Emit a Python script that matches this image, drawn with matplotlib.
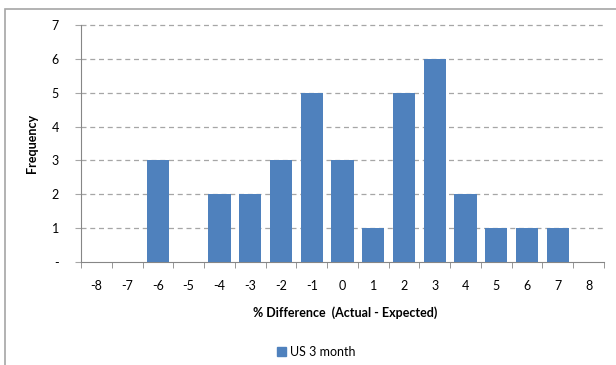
import matplotlib.pyplot as plt
from matplotlib.patches import Rectangle
import numpy as np

categories = [-8, -7, -6, -5, -4, -3, -2, -1, 0, 1, 2, 3, 4, 5, 6, 7, 8]
frequency = [0, 0, 3, 0, 2, 2, 3, 5, 3, 1, 5, 6, 2, 1, 1, 1, 0]
y_ticks = [0, 1, 2, 3, 4, 5, 6, 7]
y_labels = ["-", "1", "2", "3", "4", "5", "6", "7"]

plt.rcParams['font.family'] = ['Lato', 'DejaVu Sans']

W, H = 616, 365
fig = plt.figure(figsize=(W / 100, H / 100), dpi=100)

# chart frame (runs off the right and bottom)
fig.patches.append(Rectangle((5 / W, -0.1), 1.2, 1.1 - 9 / H, transform=fig.transFigure,
                             fill=False, edgecolor="#a6a6a6", linewidth=1.2))

left, right, top, bottom = 81, 604, 25, 262
ax = fig.add_axes([left / W, 1 - bottom / H, (right - left) / W, (bottom - top) / H])

x = np.arange(len(categories))
ax.bar(x, frequency, width=0.72, color="#4f81bd", zorder=3)

ax.set_xlim(-0.5, len(categories) - 0.5)
ax.set_ylim(0, 7)

ax.set_yticks(y_ticks)
ax.set_yticklabels(y_labels, fontsize=9)
ax.set_xticks(x)
ax.set_xticklabels([str(c) for c in categories], fontsize=9)

# category boundary ticks on the x axis
ax.set_xticks(np.arange(-0.5, len(categories), 1.0), minor=True)
ax.tick_params(axis="x", which="major", length=0, pad=13)
ax.tick_params(axis="x", which="minor", length=4, color="#868686", direction="out")
ax.tick_params(axis="y", length=4, color="#a6a6a6", pad=12)

for y in y_ticks[1:]:
    ax.axhline(y, color="#a6a6a6", linestyle=(0, (4, 3)), linewidth=0.9, zorder=1,
               clip_on=False)

for s in ["top", "right"]:
    ax.spines[s].set_visible(False)
ax.spines["left"].set_color("#868686")
ax.spines["bottom"].set_color("#868686")

ax.set_xlabel("% Difference  (Actual - Expected)", fontsize=9, fontweight="bold")
ax.set_ylabel("Frequency", fontsize=9, fontweight="bold")
ax.xaxis.set_label_coords(0.505, -0.215)
ax.yaxis.set_label_coords(-0.094, 0.5)
ax.xaxis.label.set_va("center")
ax.yaxis.label.set_va("center")

fig.legend([Rectangle((0, 0), 1, 1, color="#4f81bd")], ["US 3 month"],
           loc="center", bbox_to_anchor=(316 / W, 1 - 352 / H), frameon=False,
           fontsize=9, handlelength=0.75, handleheight=0.75, handletextpad=0.3)

fig.savefig("out.png", dpi=100)
